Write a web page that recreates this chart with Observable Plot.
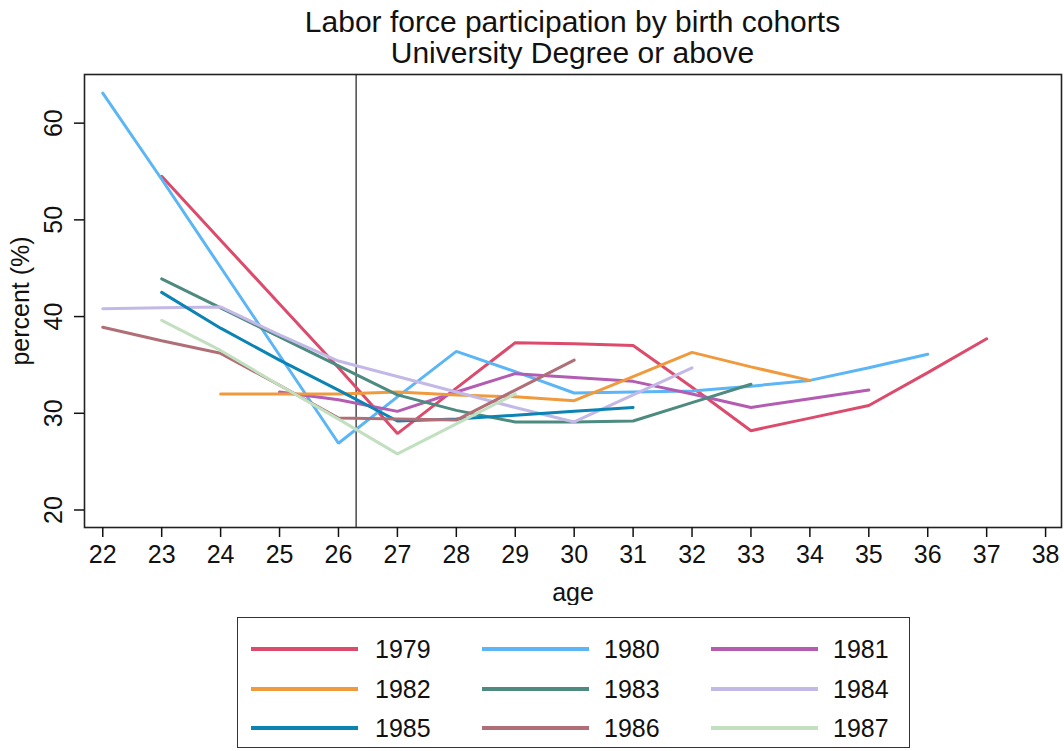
<!DOCTYPE html>
<html>
<head>
<meta charset="utf-8">
<script src="https://cdn.jsdelivr.net/npm/d3@7"></script>
<script src="https://cdn.jsdelivr.net/npm/@observablehq/plot@0.6"></script>
<style>
  html, body { margin: 0; padding: 0; background: #fff; }
  body { width: 1064px; height: 751px; position: relative; overflow: hidden;
         font-family: "Liberation Sans", Arial, Helvetica, sans-serif; color: #111; }
  #title { position: absolute; left: 84px; width: 977px; top: 6px; text-align: center;
           font-size: 30px; line-height: 31px; }
  #chart { position: absolute; left: 0; top: 70px; }
  #legend { position: absolute; left: 237px; top: 617px; width: 673px; height: 131px;
            border: 1.5px solid #333; box-sizing: border-box; }
  .sw { position: absolute; height: 4px; width: 107px; }
  .lb { position: absolute; font-size: 25px; line-height: 26px; }
</style>
</head>
<body>
<div id="title"><div>Labor force participation by birth cohorts</div><div>University Degree or above</div></div>
<div id="chart"></div>
<div id="legend"></div>
<script>
// ---- data ----
const cohorts = ["1979", "1980", "1981", "1982", "1983", "1984", "1985", "1986", "1987"];
const colors  = ["#dc4b6c", "#5cb6f6", "#b35cb2", "#f09a3e", "#4d8a7f", "#c3b9e6", "#0b83b3", "#b06f76", "#c2e0c0"];
const firstAge = [23, 22, 25, 24, 23, 22, 23, 22, 23];
const v1979 = [54.5, 47.9, 41.3, 34.7, 27.9, 32.6, 37.3, 37.2, 37.0, 32.7, 28.2, 29.5, 30.8, 34.2, 37.7];
const v1980 = [63.1, 54.2, 45.1, 36.0, 26.9, 31.7, 36.4, 34.3, 32.1, 32.2, 32.3, 32.8, 33.4, 34.7, 36.1];
const v1981 = [32.2, 31.4, 30.2, 32.2, 34.1, 33.7, 33.3, 32.0, 30.6, 31.5, 32.4];
const v1982 = [32.0, 32.0, 32.0, 32.2, 31.9, 31.7, 31.3, 33.8, 36.3, 34.8, 33.4];
const v1983 = [43.9, 40.9, 37.9, 34.9, 31.9, 30.3, 29.1, 29.1, 29.2, 31.1, 33.0];
const v1984 = [40.8, 40.9, 41.0, 38.1, 35.4, 33.8, 32.2, 30.6, 29.1, 31.9, 34.7];
const v1985 = [42.5, 38.8, 35.5, 32.4, 29.2, 29.4, 29.8, 30.2, 30.6];
const v1986 = [38.9, 37.5, 36.2, 32.9, 29.5, 29.4, 29.3, 32.4, 35.5];
const v1987 = [39.6, 36.5, 32.9, 29.4, 25.8, 28.9, 32.0];
const ageTicks = [22, 23, 24, 25, 26, 27, 28, 29, 30, 31, 32, 33, 34, 35, 36, 37, 38];
const pctTicks = [20, 30, 40, 50, 60];
const refAge = 26.3;

const series = [v1979, v1980, v1981, v1982, v1983, v1984, v1985, v1986, v1987];
const rows = [];
series.forEach((vals, i) => vals.forEach((v, j) => rows.push({cohort: cohorts[i], age: firstAge[i] + j, pct: v})));

const chart = Plot.plot({
  width: 1064,
  height: 535,
  marginLeft: 84,
  marginRight: 3,
  marginTop: 4,
  marginBottom: 78,
  style: {fontFamily: "Liberation Sans, Arial, sans-serif", fontSize: "25px", color: "#111", background: "#fff"},
  x: {domain: [21.69, 38.27]},
  y: {domain: [18.19, 65.03]},
  color: {domain: cohorts, range: colors},
  marks: [
    Plot.ruleX([refAge], {stroke: "#555", strokeWidth: 1.6}),
    Plot.line(rows, {x: "age", y: "pct", z: "cohort", stroke: "cohort", strokeWidth: 3, strokeLinejoin: "miter"}),
    Plot.frame({stroke: "#222", strokeWidth: 1.6}),
    Plot.axisX({ticks: ageTicks, tickSize: 10, tickPadding: 8, fontSize: 25, tickFormat: d => String(d),
                label: "age", labelAnchor: "center", labelArrow: "none", labelOffset: 73, strokeWidth: 1.5}),
    Plot.axisY({ticks: pctTicks, tickSize: 10, tickPadding: 13, fontSize: 25, tickRotate: -90, tickFormat: d => String(d),
                label: "percent (%)", labelAnchor: "center", labelArrow: "none", labelOffset: 73, strokeWidth: 1.5})
  ]
});
document.getElementById("chart").appendChild(chart);

// legend
const lg = document.getElementById("legend");
const colX = [13, 244, 473], txtX = [137, 366, 595], rowY = [31, 71, 110];
cohorts.forEach((c, i) => {
  const r = Math.floor(i / 3), k = i % 3;
  const sw = document.createElement("div");
  sw.className = "sw"; sw.style.background = colors[i];
  sw.style.left = colX[k] + "px"; sw.style.top = (rowY[r] - 2) + "px";
  lg.appendChild(sw);
  const lb = document.createElement("div");
  lb.className = "lb"; lb.textContent = c;
  lb.style.left = txtX[k] + "px"; lb.style.top = (rowY[r] - 13) + "px";
  lg.appendChild(lb);
});
</script>
</body>
</html>
